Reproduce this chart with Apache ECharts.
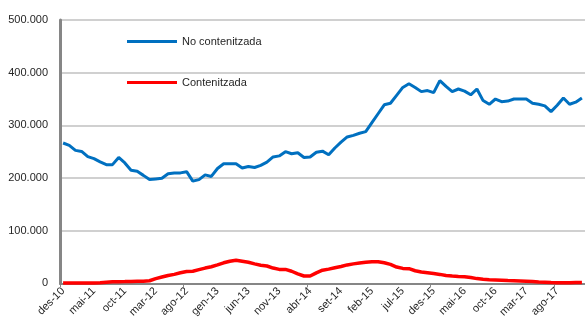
<!DOCTYPE html>
<html>
<head>
<meta charset="utf-8">
<script src="https://cdn.jsdelivr.net/npm/echarts@6/dist/echarts.min.js"></script>
<style>
  html, body { margin: 0; padding: 0; background: #ffffff; }
  #chart { width: 585px; height: 320px; }
</style>
</head>
<body>
<div id="chart"></div>
<script>
// Monthly series, des-10 .. des-17 (Catalan month abbreviations)
const monthNames = ['gen', 'feb', 'mar', 'abr', 'mai', 'jun', 'jul', 'ago', 'set', 'oct', 'nov', 'des'];
const startYear = 2010;
const startMonth = 11; // des
const monthCount = 85;

const categories = [];
for (let k = 0; k < monthCount; k++) {
  const m = (startMonth + k) % 12;
  const y = startYear + Math.floor((startMonth + k) / 12);
  categories.push(monthNames[m] + '-' + String(y % 100).padStart(2, '0'));
}

const noContenitzada = [
  266500, 262000, 252500, 250500, 240500, 236700, 230500, 225400, 225400, 239000,
  228600, 214600, 212700, 205000, 197000, 198300, 199400, 208000, 209700, 209700,
  212000, 194000, 197000, 206000, 203000, 218000, 227000, 227000, 227000, 219000,
  222000, 220000, 224000, 230000, 240000, 242000, 250000, 246000, 248000, 239000,
  240000, 249000, 251000, 244000, 257000, 268000, 278000, 281000, 285000, 288000,
  305000, 322000, 339000, 342000, 357000, 372000, 379000, 372000, 364000, 366000,
  362000, 385000, 374000, 364000, 369000, 365000, 358000, 369000, 347000, 340000,
  350000, 345000, 346000, 350000, 350000, 350000, 342000, 340000, 337000, 326000,
  338000, 352000, 340000, 344000, 352000
];

const contenitzada = [
  500, 500, 500, 500, 500, 500, 1000, 2000, 3000, 3200,
  3300, 3500, 3800, 4000, 5000, 9000, 12000, 15000, 17000, 20000,
  22500, 23000, 26000, 29000, 31500, 35000, 39000, 42000, 44000, 42000,
  40000, 37000, 34500, 33000, 29000, 26500, 26500, 23000, 18000, 14000,
  14000, 20000, 25000, 27000, 29700, 32000, 35000, 37000, 38500, 40000,
  41000, 41000, 39000, 36000, 31000, 28400, 27800, 24000, 21500, 20000,
  18500, 17000, 15000, 13800, 13000, 12700, 11000, 9000, 7600, 7000,
  6500, 6000, 5200, 4800, 4300, 3800, 3300, 2600, 2200, 1500,
  1200, 1000, 1200, 1500, 1500
];

const yTicks = [0, 100000, 200000, 300000, 400000, 500000];

const fontFamily = '"Liberation Sans", Arial, sans-serif';
const textColor = '#262626';

function thousands(v) {
  if (v === 0) return '0';
  return String(v).replace(/\B(?=(\d{3})+(?!\d))/g, '.');
}

const chart = echarts.init(document.getElementById('chart'), null, { renderer: 'canvas' });

chart.setOption({
  animation: false,
  backgroundColor: '#ffffff',
  grid: { left: 60, top: 20, width: 527, height: 264, containLabel: false },
  legend: {
    orient: 'vertical',
    left: 122,
    top: 31,
    itemWidth: 50,
    itemHeight: 3,
    itemGap: 30,
    icon: 'rect',
    textStyle: { fontFamily: fontFamily, fontSize: 11, color: textColor },
    data: ['No contenitzada', 'Contenitzada']
  },
  xAxis: {
    type: 'category',
    data: categories,
    boundaryGap: true,
    axisLine: { show: true, lineStyle: { color: '#868686', width: 2 } },
    axisTick: { show: true, interval: 19, length: 4, lineStyle: { color: '#868686', width: 1 } },
    axisLabel: {
      interval: 4,
      rotate: 45,
      margin: 6,
      fontFamily: fontFamily,
      fontSize: 11,
      color: textColor
    },
    splitLine: { show: false }
  },
  yAxis: {
    type: 'value',
    min: yTicks[0],
    max: yTicks[yTicks.length - 1],
    interval: yTicks[1] - yTicks[0],
    axisLine: { show: true, lineStyle: { color: '#868686', width: 3 } },
    axisTick: { show: false },
    axisLabel: {
      margin: 12,
      fontFamily: fontFamily,
      fontSize: 11,
      color: textColor,
      formatter: thousands
    },
    splitLine: { show: true, lineStyle: { color: '#C0C0C0', width: 1.5 } }
  },
  series: [
    {
      name: 'No contenitzada',
      type: 'line',
      data: noContenitzada,
      symbol: 'none',
      smooth: false,
      itemStyle: { color: '#0070C0' },
      lineStyle: { color: '#0070C0', width: 3 }
    },
    {
      name: 'Contenitzada',
      type: 'line',
      data: contenitzada,
      symbol: 'none',
      smooth: false,
      itemStyle: { color: '#FF0000' },
      lineStyle: { color: '#FF0000', width: 3.5 }
    }
  ]
});
</script>
</body>
</html>
